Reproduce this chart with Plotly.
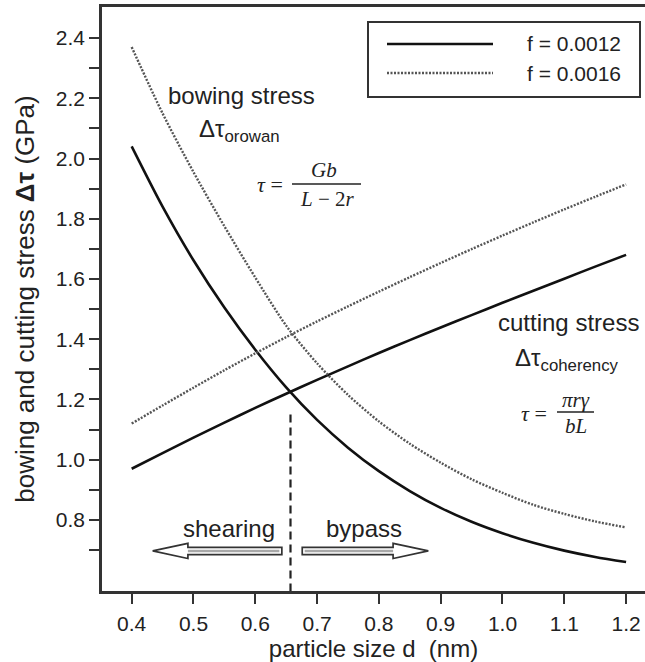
import plotly.graph_objects as go

# particle size d (nm)
d = [0.40, 0.45, 0.50, 0.55, 0.60, 0.65, 0.70, 0.75, 0.80,
     0.85, 0.90, 0.95, 1.00, 1.05, 1.10, 1.15, 1.20]

# Orowan bowing stress (GPa)
bow_f12 = [2.04, 1.84, 1.662, 1.505, 1.365, 1.24, 1.132, 1.04, 0.962,
           0.896, 0.84, 0.794, 0.756, 0.724, 0.698, 0.677, 0.66]
bow_f16 = [2.37, 2.15, 1.955, 1.775, 1.605, 1.445, 1.32, 1.215, 1.127,
           1.053, 0.99, 0.935, 0.89, 0.85, 0.82, 0.795, 0.775]

# coherency cutting stress (GPa)
cut_f12 = [0.97, 1.022, 1.073, 1.123, 1.172, 1.219, 1.265, 1.31, 1.354,
           1.397, 1.439, 1.48, 1.521, 1.561, 1.601, 1.641, 1.68]
cut_f16 = [1.12, 1.18, 1.239, 1.297, 1.353, 1.407, 1.459, 1.509, 1.558,
           1.606, 1.653, 1.699, 1.744, 1.788, 1.831, 1.873, 1.914]

series_names = ["f = 0.0012", "f = 0.0016"]
x_ticks = [0.4, 0.5, 0.6, 0.7, 0.8, 0.9, 1.0, 1.1, 1.2]
y_ticks = [0.8, 1.0, 1.2, 1.4, 1.6, 1.8, 2.0, 2.2, 2.4]
y_minor = [0.7, 0.9, 1.1, 1.3, 1.5, 1.7, 1.9, 2.1, 2.3]
d_transition = 0.657   # shearing / bypass crossover
d_cross_stress = 1.15  # top of the transition marker

W, H = 645, 662
ML, MR, MT, MB = 102, 0, 7, 71
X_RANGE = [0.352, 1.2306]
Y_RANGE = [0.564, 2.503]

SANS = "Liberation Sans, Arial, sans-serif"
SERIF = "Liberation Serif, Times New Roman, serif"
INK = "#222222"

def px(xp):
    return (xp - ML) / (W - ML - MR)

def py(yp):
    return (H - MB - yp) / (H - MT - MB)

fig = go.Figure()

solid = dict(color="#111111", width=2.6)
dotted = dict(color="#555555", width=2.4, dash="2px,1.5px")

for ys, style, name in [(bow_f12, solid, series_names[0]),
                        (cut_f12, solid, series_names[0]),
                        (bow_f16, dotted, series_names[1]),
                        (cut_f16, dotted, series_names[1])]:
    fig.add_trace(go.Scatter(x=d, y=ys, mode="lines", name=name,
                             line=dict(**style, shape="spline", smoothing=0.8),
                             showlegend=False))

shapes = []
# transition marker
shapes.append(dict(type="line", xref="x", yref="y", x0=d_transition, x1=d_transition,
                   y0=d_cross_stress, y1=Y_RANGE[0],
                   line=dict(color="#222222", width=2.2, dash="8px,5px")))

# hollow block arrows (shearing <- | -> bypass)
def arrow(tail, tip, yc):
    sh, hh = 0.012, 0.025
    head = 0.057 if tip > tail else -0.057
    base = tip - head
    path = (f"M{tail},{yc+sh} L{base},{yc+sh} L{base},{yc+hh} L{tip},{yc} "
            f"L{base},{yc-hh} L{base},{yc-sh} L{tail},{yc-sh} Z")
    return [
        dict(type="path", xref="x", yref="y", path=path, fillcolor="white",
             line=dict(color="#333333", width=1.7)),
        dict(type="line", xref="x", yref="y", x0=tail + (0.004 if tip > tail else -0.004),
             x1=base, y0=yc, y1=yc, line=dict(color="#a8a8a8", width=2.5)),
    ]

shapes += arrow(0.643, 0.434, 0.697)
shapes += arrow(0.676, 0.880, 0.697)

# legend box
shapes.append(dict(type="rect", xref="paper", yref="paper",
                   x0=px(368), x1=px(640), y0=py(97), y1=py(22),
                   line=dict(color="#333333", width=2), fillcolor="white", layer="below"))
shapes.append(dict(type="line", xref="paper", yref="paper", x0=px(387), x1=px(493),
                   y0=py(44), y1=py(44), line=dict(color="#111111", width=2.6)))
shapes.append(dict(type="line", xref="paper", yref="paper", x0=px(387), x1=px(493),
                   y0=py(73), y1=py(73), line=dict(color="#555555", width=2.4, dash="2px,1.5px")))

# fraction bars of the stress formulas
shapes.append(dict(type="line", xref="paper", yref="paper", x0=px(292), x1=px(361),
                   y0=py(184), y1=py(184), line=dict(color="#222222", width=1.3)))
shapes.append(dict(type="line", xref="paper", yref="paper", x0=px(557), x1=px(594),
                   y0=py(412), y1=py(412), line=dict(color="#222222", width=1.3)))

def note(text, xp, yp, size, family=SANS, xanchor="center"):
    return dict(text=text, xref="paper", yref="paper", x=px(xp), y=py(yp),
                xanchor=xanchor, yanchor="middle", showarrow=False,
                font=dict(family=family, size=size, color=INK))

annotations = [
    note(series_names[0], 525, 44, 21, xanchor="left"),
    note(series_names[1], 525, 73, 21, xanchor="left"),
    note("bowing stress", 241, 95, 24),
    note("Δτ<sub>orowan</sub>", 239, 130, 24),
    note("cutting stress", 568, 323, 24),
    note("Δτ<sub>coherency</sub>", 567, 360, 24),
    note("shearing", 229, 528, 24),
    note("bypass", 364, 528, 24),
    note("<i>τ</i> =", 270, 184, 22, family=SERIF),
    note("<i>Gb</i>", 324, 170, 21, family=SERIF),
    note("<i>L</i> − 2<i>r</i>", 327, 199, 21, family=SERIF),
    note("<i>τ</i> =", 534, 413, 22, family=SERIF),
    note("<i>πrγ</i>", 576, 400, 21, family=SERIF),
    note("<i>bL</i>", 576, 426, 21, family=SERIF),
]

axis_common = dict(showline=True, linecolor="#333333", linewidth=2.5,
                   ticks="outside", ticklen=10, tickwidth=2, tickcolor="#333333",
                   showgrid=False, zeroline=False,
                   tickfont=dict(family=SANS, size=21, color=INK))

fig.update_layout(
    width=W, height=H,
    margin=dict(l=ML, r=MR, t=MT, b=MB),
    paper_bgcolor="white", plot_bgcolor="white",
    shapes=shapes, annotations=annotations,
    xaxis=dict(**axis_common, range=X_RANGE, tickvals=x_ticks, tickformat=".1f",
               mirror=True, ticklabelstandoff=2,
               title=dict(text="particle size d  (nm)", standoff=8,
                          font=dict(family=SANS, size=24, color=INK))),
    yaxis=dict(**axis_common, range=Y_RANGE, tickvals=y_ticks, tickformat=".1f",
               minor=dict(tickvals=y_minor, ticks="outside", ticklen=10, tickwidth=2,
                          tickcolor="#333333"),
               title=dict(text="bowing and cutting stress <b>Δτ</b> (GPa)", standoff=14,
                          font=dict(family=SANS, size=26, color=INK))),
)

fig.write_html("out.html")
